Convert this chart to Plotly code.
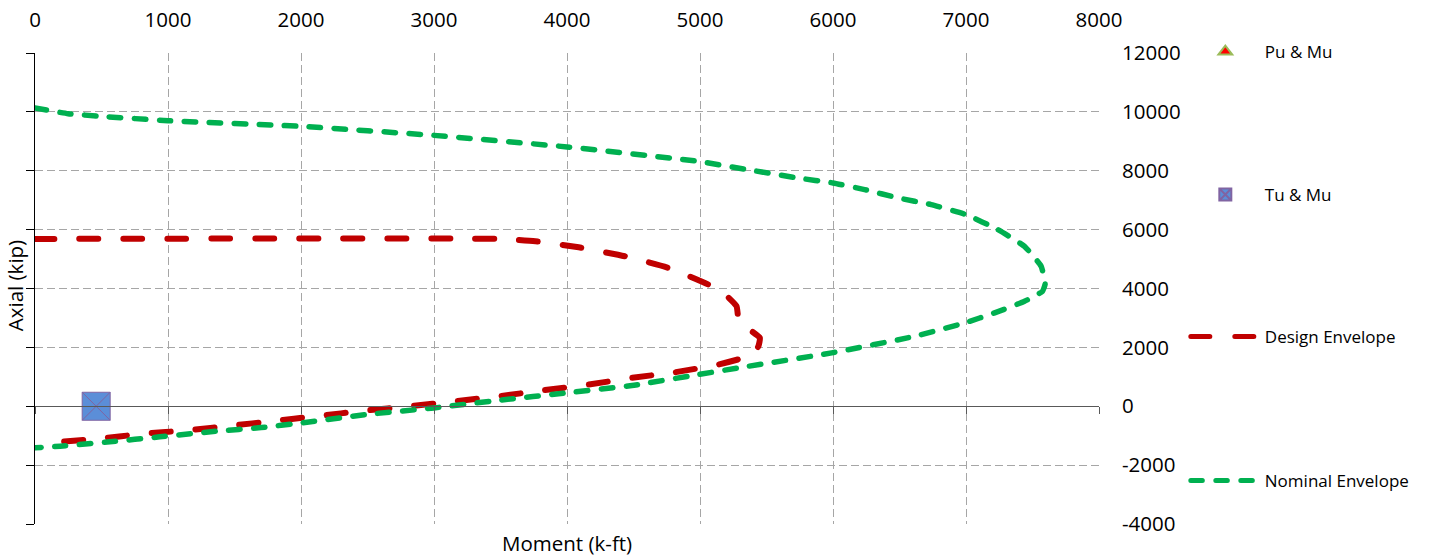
import plotly.graph_objects as go

# ---------------- data ----------------
x_ticks = [0, 1000, 2000, 3000, 4000, 5000, 6000, 7000, 8000]
y_ticks = [-4000, -2000, 0, 2000, 4000, 6000, 8000, 10000, 12000]
y_tick_text = ["-4000", "-2000", "0", "2000", "4000", "6000", "8000", "10000", "12000"]
x_tick_text = ["0", "1000", "2000", "3000", "4000", "5000", "6000", "7000", "8000"]

nominal_m = [0, 250, 500, 1000, 2000, 3000, 4000, 4984, 5359, 5734, 6000, 6238, 6488,
             6738, 7000, 7240, 7440, 7565, 7595, 7574, 7440, 7215, 6990, 6615, 5990,
             5363, 4988, 4613, 4488, 4000, 3488, 3000, 2488, 2000, 1700, 1363, 938,
             563, 188, 0]
nominal_p = [10130, 9939, 9847, 9701, 9508, 9202, 8810, 8320, 8037, 7755, 7586, 7359, 7077,
             6849, 6510, 6000, 5433, 4754, 4150, 3900, 3566, 3172, 2832, 2377, 1813,
             1358, 1077, 795, 703, 455, 204, -57, -282, -567, -725, -849, -1039,
             -1209, -1358, -1413]

design_m = [0, 3500, 3763, 4088, 4438, 4763, 5063, 5200, 5275, 5293, 5450, 5440, 5400,
            5138, 4813, 4488, 4163, 3825, 3488, 3163, 2813, 2488, 2113, 1780, 1488,
            1150, 813, 488, 50]
design_p = [5684, 5684, 5603, 5399, 5093, 4700, 4132, 3750, 3396, 2886, 2322, 2050, 1758,
            1416, 1155, 964, 737, 544, 340, 170, 0, -146, -340, -509, -655,
            -815, -937, -1100, -1262]

pu_m = [460]
pu_p = [0]
tu_m = [460]
tu_p = [0]

FONT = "Open Sans"

fig = go.Figure()

fig.add_trace(go.Scatter(x=pu_m, y=pu_p, mode="markers", name="Pu & Mu",
                         marker=dict(symbol="triangle-up", size=14, color="#FF0000",
                                     line=dict(color="#9BBB59", width=1.5)),
                         legend="legend"))
fig.add_trace(go.Scatter(x=tu_m, y=tu_p, mode="markers", name="Tu & Mu",
                         marker=dict(symbol="square-x", size=28, color="#5B8ED8",
                                     line=dict(color="#8064A2", width=1)),
                         legend="legend2"))
fig.add_trace(go.Scatter(x=design_m, y=design_p, mode="lines", name="Design Envelope",
                         line=dict(color="#C00000", width=6, dash="19px,25px", shape="spline", smoothing=0.4),
                         legend="legend3"))
fig.add_trace(go.Scatter(x=nominal_m, y=nominal_p, mode="lines", name="Nominal Envelope",
                         line=dict(color="#00B050", width=5.5, dash="11.5px,13.5px", shape="spline", smoothing=0.4),
                         legend="legend4"))
# helper trace for the axes drawn through the origin
fig.add_trace(go.Scatter(x=[0], y=[0], xaxis="x2", yaxis="y2", mode="markers",
                         marker=dict(opacity=0), showlegend=False, hoverinfo="skip"))

grid = dict(showgrid=True, gridcolor="#A6A6A6", gridwidth=1, griddash="8px,4px",
            zeroline=False, showline=False, ticks="")

leg_common = dict(xanchor="left", yanchor="middle", x=1.0816, bgcolor="rgba(0,0,0,0)",
                  font=dict(family=FONT, size=17, color="#000000"),
                  itemwidth=69, itemsizing="constant")

fig.update_layout(
    width=1429, height=556,
    margin=dict(l=35, r=330, t=53, b=32, autoexpand=False),
    plot_bgcolor="white", paper_bgcolor="white",
    font=dict(family=FONT, color="#000000"),
    xaxis=dict(range=[0, 8000], tickvals=x_ticks, ticktext=x_tick_text, side="top",
               tickfont=dict(family=FONT, size=20.5, color="#000000"),
               ticklabelstandoff=21, **grid),
    yaxis=dict(range=[-4000, 12000], tickvals=y_ticks, ticktext=y_tick_text, side="right",
               tickfont=dict(family=FONT, size=20.5, color="#000000"),
               ticklabelstandoff=22, **grid),
    xaxis2=dict(range=[0, 8000], tickvals=x_ticks, overlaying="x", anchor="free", position=0.25,
                side="bottom", showline=True, linecolor="#595959", linewidth=1.2,
                ticks="outside", ticklen=7, tickcolor="#595959", tickwidth=1.2,
                showticklabels=False, showgrid=False, zeroline=False),
    yaxis2=dict(range=[-4000, 12000], tickvals=y_ticks, overlaying="y", anchor="x", side="left",
                showline=True, linecolor="#000000", linewidth=1.2,
                ticks="outside", ticklen=8, tickcolor="#000000", tickwidth=1.2,
                showticklabels=False, showgrid=False, zeroline=False),
    legend=dict(y=1.002, **leg_common),
    legend2=dict(y=0.6985, **leg_common),
    legend3=dict(y=0.397, **leg_common),
    legend4=dict(y=0.0913, **leg_common),
    annotations=[
        dict(text="Moment (k-ft)", xref="paper", yref="paper", x=0.5, y=-0.040,
             xanchor="center", yanchor="middle", showarrow=False,
             font=dict(family=FONT, size=20.5, color="#000000")),
        dict(text="Axial (kip)", xref="paper", yref="paper", x=-0.0188, y=0.507,
             xanchor="center", yanchor="middle", showarrow=False, textangle=-90,
             font=dict(family=FONT, size=20.5, color="#000000")),
    ],
)

post = """
document.body.style.margin = '0';
document.body.style.padding = '0';
var gd = document.getElementById('{plot_id}');
gd.querySelectorAll('path.js-line').forEach(function(p){ p.style.strokeLinecap = 'round'; });
"""

fig.write_html("out.html", post_script=post, config={"displayModeBar": False})
